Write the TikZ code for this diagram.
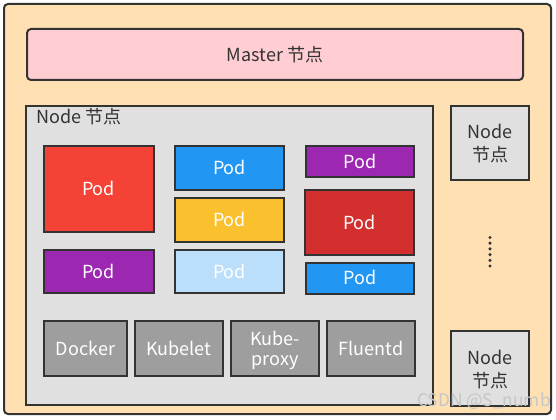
\documentclass[tikz,border=0pt]{standalone}
\usepackage{fontspec}
\setmainfont{Noto Sans CJK SC}
\usetikzlibrary{fit}
\definecolor{edge}{HTML}{333333}
\definecolor{outerfill}{HTML}{FFE0B2}
\definecolor{masterfill}{HTML}{FFCDD2}
\definecolor{nodefill}{HTML}{E0E0E0}
\definecolor{podred}{HTML}{F44336}
\definecolor{poddred}{HTML}{D32F2F}
\definecolor{podpurple}{HTML}{9C27B0}
\definecolor{podblue}{HTML}{2196F3}
\definecolor{podyellow}{HTML}{FBC02D}
\definecolor{podlblue}{HTML}{BBDEFB}
\definecolor{compfill}{HTML}{9E9E9E}
\tikzset{
  box/.style={draw=edge, line width=1.5pt, inner sep=0pt},
  comp/.style={box, fill=compfill},
  lbl/.style={anchor=base, yshift=-4.9pt, inner sep=0pt, font=\fontsize{13.5}{17}\selectfont},
  wlbl/.style={lbl, text=white},
  dlbl/.style={lbl, text=edge},
  line/.style={anchor=base, inner sep=0pt, font=\fontsize{13.5}{17}\selectfont},
  dotmark/.style={circle, fill=edge, inner sep=0pt, minimum size=2.6pt},
}
\begin{document}
\begin{tikzpicture}[x=0.75pt, y=-0.75pt]
\fill[white] (0,0) rectangle (556,420);
\useasboundingbox (0,0) rectangle (556,420);
\node[box, fill=outerfill, rounded corners=3pt, fit={(4,4) (551,414)}] (outer) {};
\node[box, fill=masterfill, rounded corners=3pt, fit={(27,29) (523,80)}] (master) {};
\node[dlbl] (mastertxt) at (master.center) {Master 节点};
\node[box, fill=nodefill, fit={(26,106) (433,405)}] (node) {};
\node[line, anchor=base west, text=edge] (nodelabel) at (36.5,124) {Node 节点};
\node[box, fill=nodefill, fit={(451,106) (529,180)}] (nodeA) {};
\node[line, text=edge] (nodeA1) at (490,139) {Node};
\node[line, text=edge] (nodeA2) at (490,162) {节点};
\node[box, fill=nodefill, fit={(451,331) (529,406)}] (nodeB) {};
\node[line, text=edge] (nodeB1) at (490,364) {Node};
\node[line, text=edge] (nodeB2) at (490,387) {节点};
% dots
\foreach \i in {0,...,5} {
  \node[dotmark] (d\i) at (490,237.5+5.7*\i) {};
}
% pods
\node[box, fill=podred, fit={(43.5,146) (153.5,231.5)}] (p1) {};
\node[box, fill=podpurple, fit={(43.5,250) (153.5,293)}] (p2) {};
\node[box, fill=podblue, fit={(175,146) (284,190)}] (p3) {};
\node[box, fill=podyellow, fit={(175,198) (284,242)}] (p4) {};
\node[box, fill=podlblue, fit={(175,250) (284,293)}] (p5) {};
\node[box, fill=podpurple, fit={(305.5,146) (414,177.5)}] (p6) {};
\node[box, fill=poddred, fit={(305,190) (414,255)}] (p7) {};
\node[box, fill=podblue, fit={(305.5,263) (414,293.5)}] (p8) {};
\foreach \p in {p1,p2,p3,p4,p5,p6,p7,p8} {
  \node[wlbl] (\p txt) at (\p.center) {Pod};
}
% components
\node[comp, fit={(44,321) (127,376)}] (docker) {};
\node[wlbl] (dockertxt) at (docker.center) {Docker};
\node[comp, fit={(135,321) (223,376)}] (kubelet) {};
\node[wlbl] (kubelettxt) at (kubelet.center) {Kubelet};
\node[comp, fit={(231,321) (319,376)}] (proxy) {};
\node[line, text=white] (proxy1) at (275,345) {Kube-};
\node[line, text=white] (proxy2) at (275,365) {proxy};
\node[comp, fit={(327,321) (415,376)}] (fluentd) {};
\node[wlbl] (fluentdtxt) at (fluentd.center) {Fluentd};
% watermark
\node[anchor=south east, inner sep=0pt, text=gray!45, font=\fontsize{13}{15}\selectfont] (wm) at (551,410) {CSDN @S\_numb};
\end{tikzpicture}
\end{document}
